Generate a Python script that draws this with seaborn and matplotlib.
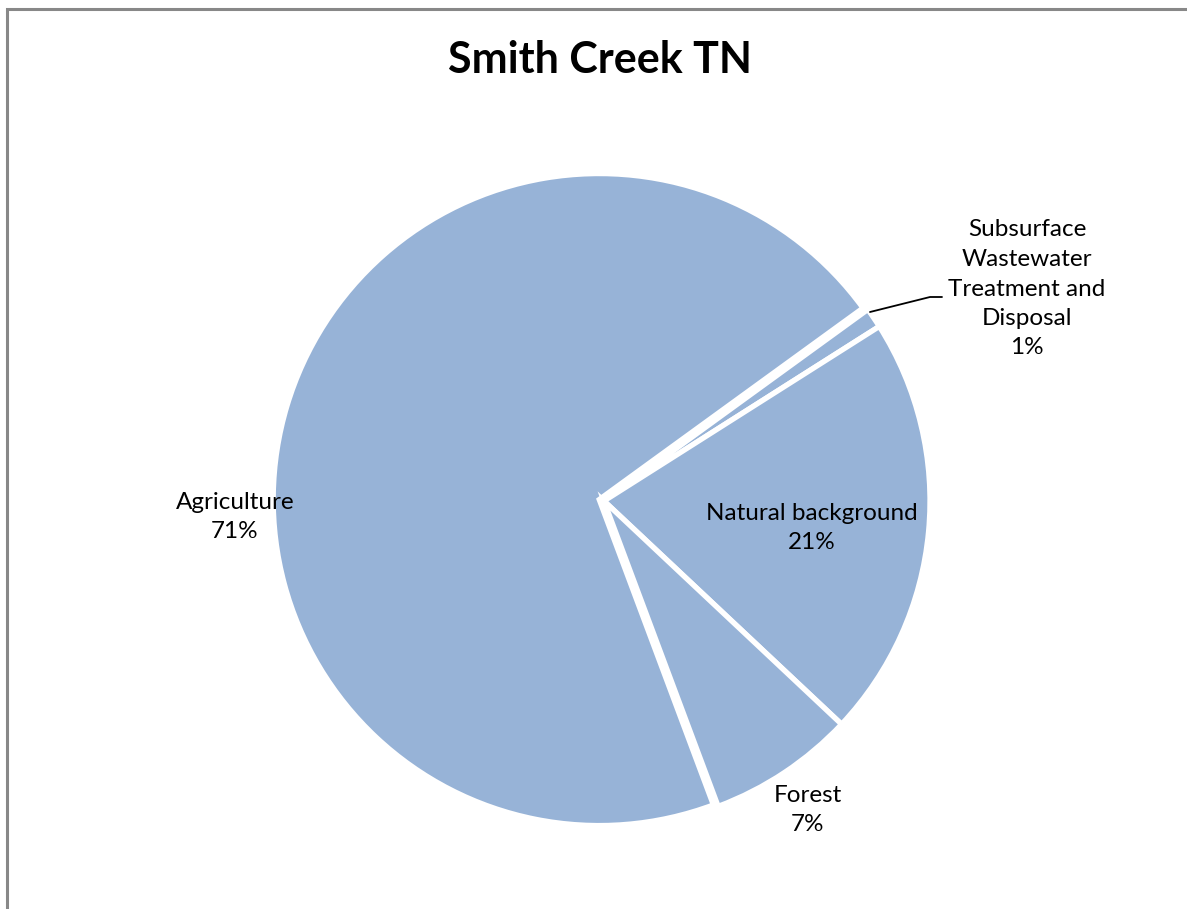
import matplotlib
matplotlib.use("Agg")
import matplotlib.pyplot as plt
from matplotlib.patches import Rectangle
import seaborn as sns

# Data
categories = ["Agriculture", "Subsurface\nWastewater\nTreatment and\nDisposal", "Natural background", "Forest"]
values = [70.7, 1.0, 21.0, 7.3]
pct_labels = ["71%", "1%", "21%", "7%"]
title = "Smith Creek TN"

sns.set_theme(style="white")
plt.rcParams["font.family"] = ["Lato", "DejaVu Sans"]
plt.rcParams["text.color"] = "black"

W, H = 1187, 909
fig = plt.figure(figsize=(W / 100, H / 100), dpi=100)
ax = fig.add_axes([0, 0, 1, 1])

def Y(py):
    return H - py

color = "#97b3d7"
# explode is in data units (pixels) because the axes span the figure in pixel units
ax.pie(values, colors=[color] * len(values), startangle=90 - 159.5, counterclock=False,
       center=(604, Y(501)), radius=326, explode=[5, 0, 0, 0],
       wedgeprops=dict(edgecolor="white", linewidth=3.8), frame=True)
ax.set_xlim(0, W)
ax.set_ylim(0, H)
ax.set_aspect("equal")
ax.axis("off")

fs = 17.5
txt = dict(ha="center", va="center", fontsize=fs, color="black", linespacing=1.5)
ax.text(235, Y(517), f"{categories[0]}\n{pct_labels[0]}", **txt)
ax.text(812, Y(528), f"{categories[2]}\n{pct_labels[2]}", **txt)
ax.text(808, Y(810), f"{categories[3]}\n{pct_labels[3]}", **txt)
ax.text(1027, Y(289), f"{categories[1]}\n{pct_labels[1]}", **txt)

# leader line for the small slice
ax.plot([870, 930, 942], [Y(312), Y(297), Y(297)], color="black", lw=1.3)

ax.text(600, Y(60), title, ha="center", va="center", fontsize=31, fontweight="bold", color="black")

# chart border (right and bottom edges fall outside the image)
fig.patches.append(Rectangle((7 / W, -0.1), 1.5, (H - 9) / H + 0.1, transform=fig.transFigure,
                             fill=False, edgecolor="#888888", linewidth=2.2))

fig.savefig("out.png", dpi=100)
